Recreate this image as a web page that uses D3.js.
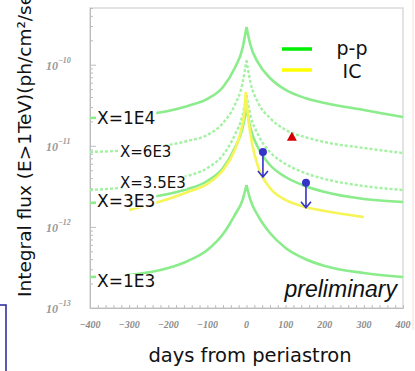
<!DOCTYPE html>
<html>
<head>
<meta charset="utf-8">
<script src="https://cdn.jsdelivr.net/npm/d3@7"></script>
<style>
  body { margin: 0; background: #fff; }
  svg { display: block; font-family: "DejaVu Sans", sans-serif; }
</style>
</head>
<body>
<div id="chart"></div>
<script>
// model curves, integral flux E>1TeV (ph/cm2/s) vs days from periastron
const days = [-400, -300, -200, -150, -100, -60, -30, -10, 0, 10, 30, 60, 100, 150, 200, 300, 400];
const pp1E4 = [2.20e-11, 2.33e-11, 2.69e-11, 3.10e-11, 3.78e-11, 5.31e-11, 9.10e-11, 1.61e-10, 2.92e-10, 1.75e-10, 1.05e-10, 6.85e-11, 4.88e-11, 3.88e-11, 3.37e-11, 2.76e-11, 2.26e-11];
const pp6E3 = [8.39e-12, 8.87e-12, 1.02e-11, 1.15e-11, 1.36e-11, 1.91e-11, 3.18e-11, 5.94e-11, 1.14e-10, 6.12e-11, 3.37e-11, 2.20e-11, 1.57e-11, 1.28e-11, 1.11e-11, 9.39e-12, 8.15e-12];
const pp3p5E3 = [2.85e-12, 3.10e-12, 3.68e-12, 4.25e-12, 5.32e-12, 7.71e-12, 1.36e-11, 2.40e-11, 4.23e-11, 2.40e-11, 1.36e-11, 8.39e-12, 5.97e-12, 4.62e-12, 3.90e-12, 3.19e-12, 2.85e-12];
const pp3E3 = [1.97e-12, 2.15e-12, 2.55e-12, 2.93e-12, 3.68e-12, 5.32e-12, 9.39e-12, 1.66e-11, 2.92e-11, 1.66e-11, 9.39e-12, 5.80e-12, 4.12e-12, 3.19e-12, 2.69e-12, 2.21e-12, 2.03e-12];
const pp1E3 = [2.41e-13, 2.55e-13, 3.11e-13, 3.80e-13, 5.19e-13, 8.17e-13, 1.40e-12, 2.15e-12, 3.29e-12, 2.15e-12, 1.36e-12, 8.41e-13, 5.50e-13, 4.02e-13, 3.30e-13, 2.70e-13, 2.41e-13];

const icDays = [-300, -200, -150, -100, -60, -30, -15, -5, -2, 5, 15, 30, 60, 100, 150, 200, 300];
const icFlux = [1.62e-12, 2.21e-12, 2.69e-12, 3.38e-12, 5.03e-12, 8.87e-12, 1.48e-11, 2.76e-11, 4.60e-11, 2.08e-11, 1.02e-11, 5.48e-12, 3.02e-12, 2.15e-12, 1.76e-12, 1.57e-12, 1.32e-12];

// measurements
const limitDays = [42, 152];
const limitFlux = [8.4e-12, 3.5e-12];
const detDays = [116];
const detFlux = [1.29e-11];

const seriesNames = ['X=1E4', 'X=6E3', 'X=3.5E3', 'X=3E3', 'X=1E3'];
const xTicks = [-400, -300, -200, -100, 0, 100, 200, 300, 400];
const yTicks = [1e-10, 1e-11, 1e-12, 1e-13];
const yTickExp = ['−10', '−11', '−12', '−13'];
const legendNames = ['p-p', 'IC'];

const width = 415, height = 371;

const svg = d3.select('#chart').append('svg')
  .attr('width', width)
  .attr('height', height);

const x = d3.scaleLinear().domain([-400, 400]).range([90, 403]);
const y = d3.scaleLog().domain([1e-13, 5e-10]).range([308, 8]);

// frame
svg.append('rect')
  .attr('x', 90).attr('y', 8)
  .attr('width', 313).attr('height', 300)
  .attr('fill', 'none')
  .attr('stroke', '#dadada')
  .attr('stroke-width', 1.5);

// pink edge on right + blue corner bottom left
svg.append('line')
  .attr('x1', 413).attr('x2', 413).attr('y1', 0).attr('y2', 330)
  .attr('stroke', '#ffd8d8');
svg.append('path')
  .attr('d', 'M0,305H6V371')
  .attr('fill', 'none')
  .attr('stroke', '#25259a')
  .attr('stroke-width', 1.5);

// axes (ticks point inwards)
const minorY = y.ticks().filter(t => !yTicks.some(m => Math.abs(m - t) / t < 1e-6));
svg.append('g')
  .attr('transform', 'translate(90,0)')
  .call(d3.axisRight(y).tickValues(minorY).tickSize(3).tickSizeOuter(0).tickFormat(''));
svg.append('g')
  .attr('transform', 'translate(90,0)')
  .call(d3.axisRight(y).tickValues(yTicks).tickSize(6).tickSizeOuter(0).tickFormat(''));
svg.append('g')
  .attr('transform', 'translate(0,308)')
  .call(d3.axisTop(x).tickValues(d3.range(-400, 401, 20)).tickSize(3).tickSizeOuter(0).tickFormat(''));
svg.selectAll('.domain, .tick line').attr('stroke', '#bdbdbd');

svg.append('g').selectAll('text')
  .data(xTicks)
  .enter().append('text')
  .attr('x', d => x(d))
  .attr('y', 328)
  .attr('text-anchor', 'middle')
  .attr('font-family', '"Liberation Serif", serif')
  .attr('font-style', 'italic')
  .attr('font-weight', 'bold')
  .attr('font-size', 10)
  .attr('fill', '#8c8c8c')
  .text(d => d < 0 ? '−' + Math.abs(d) : d);

const yLab = svg.append('g').selectAll('text')
  .data(yTicks)
  .enter().append('text')
  .attr('x', 46)
  .attr('y', d => y(d) + 5)
  .attr('font-family', '"Liberation Serif", serif')
  .attr('font-style', 'italic')
  .attr('font-size', 12)
  .attr('font-weight', 'bold')
  .attr('fill', '#9a9a9a');
yLab.append('tspan').text('10');
yLab.append('tspan')
  .attr('dy', -7)
  .attr('font-size', 8)
  .text((d, i) => yTickExp[i]);

// curves
const line = d3.line()
  .x(d => x(d[0]))
  .y(d => y(d[1]))
  .curve(d3.curveMonotoneX);

function cuspPath(ds, vs) {
  const pts = ds.map((d, i) => [d, vs[i]]);
  const k = d3.maxIndex(vs);
  return line(pts.slice(0, k + 1)) + line(pts.slice(k));
}

const ppSeries = [
  { name: seriesNames[0], values: pp1E4, dashed: false },
  { name: seriesNames[1], values: pp6E3, dashed: true },
  { name: seriesNames[2], values: pp3p5E3, dashed: true },
  { name: seriesNames[3], values: pp3E3, dashed: false },
  { name: seriesNames[4], values: pp1E3, dashed: false }
];

svg.append('g').selectAll('path')
  .data(ppSeries)
  .enter().append('path')
  .attr('d', d => cuspPath(days, d.values))
  .attr('fill', 'none')
  .attr('stroke', d => d.dashed ? '#a2f2a2' : '#8aec8a')
  .attr('stroke-width', d => d.dashed ? 2.4 : 2.6)
  .attr('stroke-dasharray', d => d.dashed ? '3,2' : null);

svg.append('path')
  .attr('d', cuspPath(icDays, icFlux))
  .attr('fill', 'none')
  .attr('stroke', '#f5f55a')
  .attr('stroke-width', 2.6);

// series labels
const labelPos = [
  { x: 97, y: 124, size: 17 },
  { x: 120, y: 157, size: 15 },
  { x: 120, y: 188, size: 15 },
  { x: 97, y: 207, size: 17 },
  { x: 97, y: 287, size: 17 }
];
ppSeries.forEach((s, i) => {
  const p = labelPos[i];
  const g = svg.append('g');
  const t = g.append('text')
    .attr('x', p.x).attr('y', p.y)
    .attr('font-size', p.size)
    .attr('fill', '#111')
    .text(s.name);
  const b = t.node().getBBox();
  g.insert('rect', 'text')
    .attr('x', b.x - 1).attr('y', p.y - p.size * 0.76)
    .attr('width', b.width + 2).attr('height', p.size * 0.8)
    .attr('fill', '#fff');
});

// upper limits
const lim = svg.append('g').selectAll('g')
  .data(limitDays.map((d, i) => [d, limitFlux[i]]))
  .enter().append('g')
  .attr('transform', d => `translate(${x(d[0])},${y(d[1])})`);
lim.append('path')
  .attr('d', 'M0,0V25M-5,19L0,25L5,19')
  .attr('fill', 'none')
  .attr('stroke', '#3434c8')
  .attr('stroke-width', 1.6);
lim.append('circle')
  .attr('r', 4)
  .attr('fill', '#3434c8');

// detection
svg.append('g').selectAll('path')
  .data(detDays.map((d, i) => [d, detFlux[i]]))
  .enter().append('path')
  .attr('transform', d => `translate(${x(d[0])},${y(d[1])})`)
  .attr('d', 'M0,-5L5,4H-5Z')
  .attr('fill', '#d40000');

// legend
const legColors = ['#00ee00', '#ffff00'];
legendNames.forEach((n, i) => {
  svg.append('line')
    .attr('x1', 282).attr('x2', 312)
    .attr('y1', 49 + i * 21).attr('y2', 49 + i * 21)
    .attr('stroke', legColors[i])
    .attr('stroke-width', 3.5);
  svg.append('text')
    .attr('x', 352).attr('y', 55 + i * 23)
    .attr('text-anchor', 'middle')
    .attr('font-size', 19)
    .attr('fill', '#111')
    .text(n);
});

svg.append('text')
  .attr('x', 397).attr('y', 297)
  .attr('text-anchor', 'end')
  .attr('font-family', '"Liberation Sans", Arial, sans-serif')
  .attr('font-style', 'italic')
  .attr('font-size', 23)
  .attr('fill', '#111')
  .text('preliminary');

// axis titles
svg.append('text')
  .attr('x', 250).attr('y', 362)
  .attr('text-anchor', 'middle')
  .attr('font-size', 19.5)
  .attr('fill', '#111')
  .text('days from periastron');

svg.append('text')
  .attr('transform', 'translate(31,297) rotate(-90)')
  .attr('font-size', 18.5)
  .attr('fill', '#111')
  .text('Integral flux (E>1TeV)(ph/cm²/sec)');
</script>
</body>
</html>
